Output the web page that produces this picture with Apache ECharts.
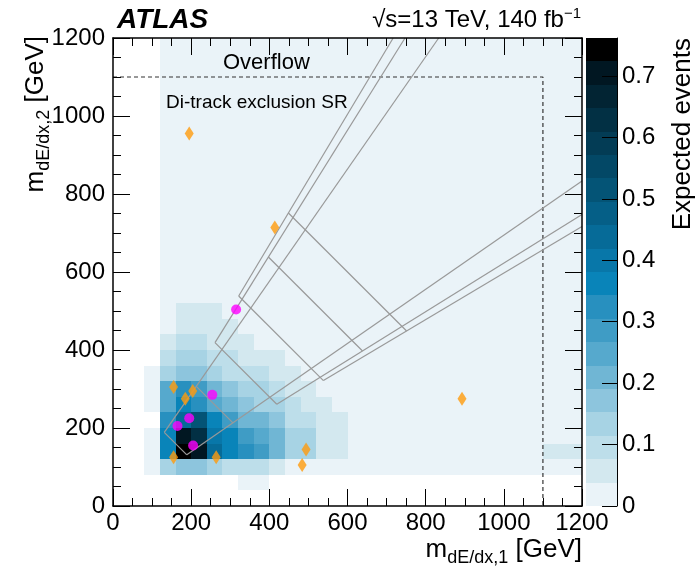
<!DOCTYPE html>
<html>
<head>
<meta charset="utf-8">
<script src="https://cdn.jsdelivr.net/npm/echarts@6/dist/echarts.min.js"></script>
<style>
html, body { margin: 0; padding: 0; background: #fff; }
#chart { width: 697px; height: 575px; }
</style>
</head>
<body>
<div id="chart"></div>
<script>
// bin edges of the populated core (GeV)
var xEdges = [80, 120, 160, 200, 240, 280, 320, 360, 400, 440, 480, 520, 560, 600];
var yEdges = [40, 80, 120, 160, 200, 240, 280, 320, 360, 400, 440, 480, 520];

// expected events, one row per y bin, bottom (40-80) to top (480-520)
var binValues = [
    [0,   0,   0,   0,   0,   0,   .02, .02, 0,   0,   0,   0,   0  ],
    [.02, .13, .17, .17, .13, .10, .10, .10, .06, .02, .02, .02, .02],
    [.02, .36, .74, .70, .44, .36, .32, .29, .21, .13, .13, .06, .06],
    [.02, .36, .70, .63, .40, .36, .29, .25, .21, .13, .13, .06, .06],
    [0,   .32, .44, .51, .36, .29, .21, .21, .17, .10, .10, .06, .06],
    [.02, .25, .36, .32, .25, .21, .17, .13, .13, .10, .06, .06, .02],
    [.02, .25, .32, .29, .21, .17, .13, .13, .10, .06, .06, .02, .02],
    [.02, .13, .17, .17, .13, .10, .10, .10, .06, .06, .02, .02, .02],
    [0,   .10, .13, .13, .10, .10, .06, .06, .06, .02, .02, .02, .02],
    [0,   .06, .10, .10, .06, .06, .06, .02, .02, .02, .02, .02, .02],
    [0,   .02, .06, .06, .06, .06, .02, .02, .02, .02, .02, .02, .02],
    [0,   .02, .06, .06, .06, .02, .02, .02, .02, .02, .02, .02, .02]
];

// low-level floor over the rest of the plane, and the overflow column cell
var floorCell = [120, 1200, 80, 1200, 0.02];
var overflowCells = [[1100, 1200, 120, 160, 0.06]];

// colour scale
var zMax = 0.762;
var palette = ['#eaf3f8', '#d3e8ef', '#bddeea', '#a7d3e4', '#8dc5dd', '#70b6d4', '#56a9cd',
    '#3f9cc5', '#2890bf', '#0984b9', '#0877a9', '#066b98', '#055f87', '#045476', '#034866',
    '#033c55', '#023044', '#022433', '#011722', '#000000'];

// events (GeV)
var eventsA = [[195, 955], [414, 714], [204, 295], [185, 275], [155, 305], [893, 275],
    [155, 125], [264, 125], [494, 145], [484, 105]];
var eventsB = [[315, 504], [254, 285], [195, 225], [165, 205], [205, 155]];

// signal-region windows: |ratio| limit and m1+m2 boundaries
var srRatio = [1.44, 1.606, 1.674];
var srSumLow = [320, 680, 860];
var srSumMid = [520, 1036, 1200];

var overflowEdge = 1100;
var axisMax = 1200;

var cells = [floorCell];
for (var j = 0; j < binValues.length; j++) {
    for (var i = 0; i < binValues[j].length; i++) {
        if (binValues[j][i] > 0) {
            cells.push([xEdges[i], xEdges[i + 1], yEdges[j], yEdges[j + 1], binValues[j][i]]);
        }
    }
}
cells = cells.concat(overflowCells);

var nLevels = palette.length;
var step = zMax / nLevels;
var pieces = [];
var scaleCells = [];
for (var k = 0; k < nLevels; k++) {
    pieces.push({ gte: k * step, lt: (k + 1) * step + (k == nLevels - 1 ? 1 : 0), color: palette[k] });
    scaleCells.push([0, 1, k * step, (k + 1) * step, (k + 0.5) * step]);
}

function renderCell(params, api) {
    var p0 = api.coord([api.value(0), api.value(2)]);
    var p1 = api.coord([api.value(1), api.value(3)]);
    var x0 = Math.round(Math.min(p0[0], p1[0])), x1 = Math.round(Math.max(p0[0], p1[0]));
    var y0 = Math.round(Math.min(p0[1], p1[1])), y1 = Math.round(Math.max(p0[1], p1[1]));
    return {
        type: 'rect',
        shape: { x: x0, y: y0, width: x1 - x0, height: y1 - y0 },
        style: { fill: api.visual('color') }
    };
}

// window outlines: cross lines at constant m1+m2, side lines along m2 = r*m1 out to the frame
function corner(s, r) { return [s / (1 + r), s * r / (1 + r)]; }
var outline = [];
function seg(a, b) {
    outline.push({
        type: 'line', xAxisIndex: 0, yAxisIndex: 0, data: [a, b], symbol: 'none', silent: true,
        z: 4, lineStyle: { color: '#999', width: 1.2 }, animation: false
    });
}
for (var n = 0; n < srRatio.length; n++) {
    var r = srRatio[n];
    var lowUp = corner(srSumLow[n], r), lowDn = corner(srSumLow[n], 1 / r);
    seg(lowUp, lowDn);
    seg(corner(srSumMid[n], r), corner(srSumMid[n], 1 / r));
    seg(lowUp, [axisMax / r, axisMax]);
    seg(lowDn, [axisMax, axisMax / r]);
}

var tickFont = { fontFamily: 'Liberation Sans', fontSize: 24, color: '#000' };
function plain(v) { return String(v); }

// frame axis: ticks point into the plot, drawn above the cells
function frameAxis(extra) {
    return Object.assign({
        gridIndex: 0, type: 'value', min: 0, max: axisMax, interval: 200, z: 8,
        axisLine: { onZero: false, lineStyle: { color: '#000', width: 1.5 } },
        axisTick: { inside: true, length: 17, lineStyle: { color: '#000' } },
        minorTick: { show: true, splitNumber: 4, length: 8, lineStyle: { color: '#000' } },
        splitLine: { show: false }
    }, extra);
}

var chart = echarts.init(document.getElementById('chart'), null, { renderer: 'canvas' });
var option = {
    animation: false,
    grid: [
        { left: 113, top: 38, width: 469, height: 468 },
        { left: 586, top: 38, width: 31, height: 468 }
    ],
    xAxis: [
        frameAxis({ position: 'bottom', axisLabel: Object.assign({ margin: 5, formatter: plain }, tickFont) }),
        frameAxis({ position: 'top', axisLabel: { show: false } }),
        { gridIndex: 1, type: 'value', min: 0, max: 1, show: false }
    ],
    yAxis: [
        frameAxis({ position: 'left', axisLabel: Object.assign({ margin: 8, formatter: plain }, tickFont) }),
        frameAxis({ position: 'right', axisLabel: { show: false } }),
        {
            gridIndex: 1, type: 'value', min: 0, max: zMax, interval: 0.1, position: 'right', z: 8,
            axisLine: { show: true, onZero: false, lineStyle: { color: '#000', width: 1 } },
            axisTick: { inside: true, length: 15, lineStyle: { color: '#000' } },
            axisLabel: Object.assign({
                margin: 5,
                formatter: function (v) {
                    return Math.abs(v * 10 - Math.round(v * 10)) < 1e-6 ? String(+v.toFixed(1)) : '';
                }
            }, tickFont),
            splitLine: { show: false }
        }
    ],
    visualMap: {
        type: 'piecewise', show: false, dimension: 4, seriesIndex: [0, 1], pieces: pieces
    },
    series: [
        {
            type: 'custom', xAxisIndex: 0, yAxisIndex: 0, renderItem: renderCell,
            encode: { x: [0, 1], y: [2, 3] }, data: cells, z: 1, silent: true
        },
        {
            type: 'custom', xAxisIndex: 2, yAxisIndex: 2, renderItem: renderCell,
            encode: { x: [0, 1], y: [2, 3] }, data: scaleCells, z: 1, silent: true
        },
        {
            type: 'line', xAxisIndex: 0, yAxisIndex: 0, symbol: 'none', silent: true, z: 3,
            data: [[0, overflowEdge], [overflowEdge, overflowEdge], [overflowEdge, 0]],
            lineStyle: { color: '#333', width: 1.2, type: [4, 3] }
        },
        {
            type: 'scatter', xAxisIndex: 0, yAxisIndex: 0, data: eventsA, symbol: 'diamond',
            symbolSize: [9, 14], itemStyle: { color: '#ff9b0d' }, z: 6, silent: true
        },
        {
            type: 'scatter', xAxisIndex: 0, yAxisIndex: 0, data: eventsB, symbol: 'circle',
            symbolSize: 10, itemStyle: { color: '#ff00ff' }, z: 6, silent: true
        }
    ].concat(outline),
    graphic: [
        {
            type: 'text', x: 117, y: 20, z: 10,
            style: { text: 'ATLAS', fontFamily: 'Liberation Sans', fontSize: 28, fontWeight: 'bold',
                fontStyle: 'italic', fill: '#000', align: 'left', verticalAlign: 'middle' }
        },
        {
            type: 'text', x: 581, y: 20, z: 10,
            style: {
                text: '{n|\u221As=13 TeV, 140 fb}{s|\u22121}', align: 'right', verticalAlign: 'middle',
                rich: {
                    n: { fontFamily: 'Liberation Sans', fontSize: 24, fill: '#000' },
                    s: { fontFamily: 'Liberation Sans', fontSize: 15, fill: '#000', padding: [0, 0, 12, 0] }
                }
            }
        },
        {
            type: 'text', x: 223, y: 63, z: 10,
            style: { text: 'Overflow', fontFamily: 'Liberation Sans', fontSize: 22, fill: '#000',
                align: 'left', verticalAlign: 'middle' }
        },
        {
            type: 'text', x: 166, y: 103, z: 10,
            style: { text: 'Di-track exclusion SR', fontFamily: 'Liberation Sans', fontSize: 19,
                fill: '#000', align: 'left', verticalAlign: 'middle' }
        },
        {
            type: 'text', x: 36, y: 36, rotation: Math.PI / 2, z: 10,
            style: {
                text: '{m|m}{s|dE/dx,2}{m| [GeV]}', align: 'right', verticalAlign: 'middle',
                rich: {
                    m: { fontFamily: 'Liberation Sans', fontSize: 26, fill: '#000' },
                    s: { fontFamily: 'Liberation Sans', fontSize: 18, fill: '#000', padding: [16, 0, 0, 0] }
                }
            }
        },
        {
            type: 'text', x: 582, y: 550, z: 10,
            style: {
                text: '{m|m}{s|dE/dx,1}{m| [GeV]}', align: 'right', verticalAlign: 'middle',
                rich: {
                    m: { fontFamily: 'Liberation Sans', fontSize: 26, fill: '#000' },
                    s: { fontFamily: 'Liberation Sans', fontSize: 18, fill: '#000', padding: [16, 0, 0, 0] }
                }
            }
        },
        {
            type: 'text', x: 683, y: 38, rotation: Math.PI / 2, z: 10,
            style: { text: 'Expected events', fontFamily: 'Liberation Sans', fontSize: 26, fill: '#000',
                align: 'right', verticalAlign: 'middle' }
        }
    ]
};
chart.setOption(option);
</script>
</body>
</html>
